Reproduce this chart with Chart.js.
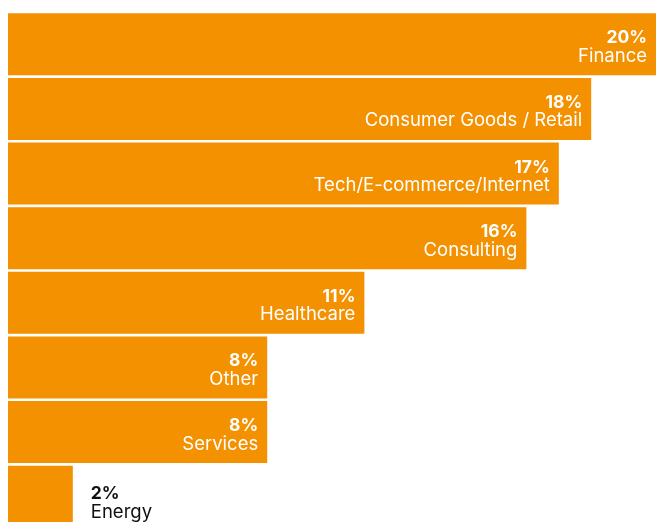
<!DOCTYPE html>
<html>
<head>
<meta charset="utf-8">
<script src="https://cdn.jsdelivr.net/npm/chart.js@4/dist/chart.umd.min.js"></script>
<style>
  html, body { margin: 0; padding: 0; background: #fff; overflow: hidden; }
  #wrap { position: relative; width: 656px; height: 529px; }
</style>
</head>
<body>
<div id="wrap"><canvas id="sectorChart"></canvas></div>
<script>
// Share of respondents by sector
const sectors = ['Finance', 'Consumer Goods / Retail', 'Tech/E-commerce/Internet', 'Consulting',
    'Healthcare', 'Other', 'Services', 'Energy'];
const shares = [20, 18, 17, 16, 11, 8, 8, 2];

const orange = '#F39100';

// bar labels: bold percentage over the sector name, inside the bar end
// (or just outside it when the bar is too short)
const barLabels = {
    id: 'barLabels',
    afterDatasetsDraw(chart) {
        const ctx = chart.ctx;
        const bars = chart.getDatasetMeta(0).data;
        ctx.save();
        bars.forEach((bar, i) => {
            const inside = shares[i] >= 5;
            const x = inside ? bar.x - 9 : bar.x + 18;
            const y = inside ? bar.y : bar.y + 3.5;
            ctx.textAlign = inside ? 'right' : 'left';
            ctx.textBaseline = 'alphabetic';
            ctx.fillStyle = inside ? '#ffffff' : '#111111';
            ctx.font = '700 17.5px Inter';
            ctx.fillText(shares[i] + '%', x, y - 1);
            ctx.font = '400 18.5px Inter';
            ctx.fillText(sectors[i], x, y + 17.5);
        });
        ctx.restore();
    }
};

new Chart(document.getElementById('sectorChart'), {
    type: 'bar',
    data: {
        labels: sectors,
        datasets: [{
            data: shares,
            backgroundColor: orange,
            borderWidth: 0,
            barPercentage: 0.96,
            categoryPercentage: 1
        }]
    },
    options: {
        indexAxis: 'y',
        responsive: true,
        maintainAspectRatio: false,
        animation: false,
        layout: { padding: { left: 8, right: 0, top: 12, bottom: 0 } },
        plugins: {
            legend: { display: false },
            tooltip: { enabled: false }
        },
        scales: {
            x: { min: 0, max: 20, display: false },
            y: { display: false }
        }
    },
    plugins: [barLabels]
});
</script>
</body>
</html>
